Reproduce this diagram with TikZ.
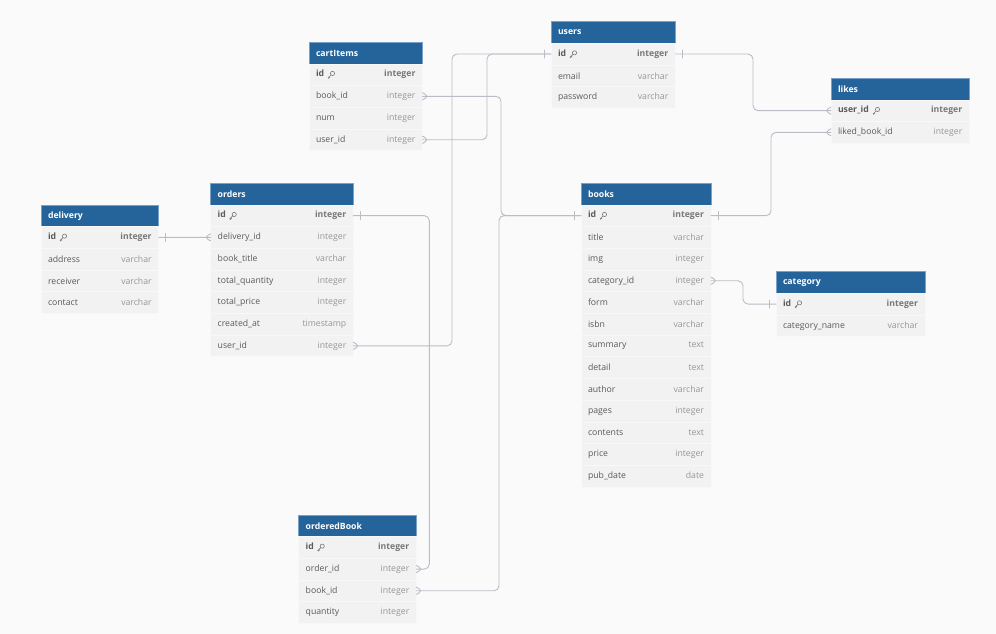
\documentclass[tikz,border=0pt]{standalone}
\usepackage{fontspec}
\setmainfont{Open Sans}
\usetikzlibrary{positioning}
\definecolor{bgc}{RGB}{250,250,250}
\definecolor{hdr}{RGB}{36,100,154}
\definecolor{hdrl}{RGB}{120,160,200}
\definecolor{rowc}{RGB}{242,242,242}
\definecolor{sepc}{RGB}{248,248,248}
\definecolor{fldc}{RGB}{90,90,90}
\definecolor{typc}{RGB}{150,150,150}
\definecolor{typb}{RGB}{120,120,120}
\definecolor{relc}{RGB}{186,189,197}
\newcommand\typ[1]{\hskip 0pt plus 1filll{\color{typc}#1}}
\newcommand\typb[1]{\hskip 0pt plus 1filll{\bfseries\color{typb}#1}}
\begin{document}
\begin{tikzpicture}[x=1pt, y=-1pt, line cap=round, line join=round,
	head/.style={anchor=north west, fill=hdr, draw=hdrl, line width=.5pt, minimum height=21.5pt, inner xsep=7pt, inner ysep=0pt, outer sep=0pt, align=left, text=white, font=\bfseries\fontsize{8.7}{10}\selectfont},
	row/.style={fill=rowc, draw=sepc, line width=.5pt, minimum height=21.7pt, inner xsep=7pt, inner ysep=0pt, outer sep=0pt, align=left, text=fldc, font=\fontsize{8.7}{10}\selectfont},
	rel/.style={draw=relc, line width=.9pt, rounded corners=5pt},
	crow/.pic={\draw[rel] (0,-3.5) -- (7,0) -- (0,3.5);},
	one/.pic={\draw[rel] (7,-4) -- (7,4);},
	pkkey/.pic={\draw[draw=typb, line width=.6pt] (1.5,-1.2) circle (2.1pt) (0,0.3) -- (-3,3.3) (-1.9,2.2) -- (-1,3.1) (-2.8,3.1) -- (-2,3.9);}]
	
	% background
	\fill[bgc] (0,0) rectangle (996,634);
	\useasboundingbox (0,0) rectangle (996,634);
	
	% cartItems
	\begin{scope}[every node/.append style={text width=99.5pt}]
		\node[head] (cartH) at (309,42.3) {cartItems};
		\node[row, below=0pt of cartH] (cartId) {\textbf{id}\typb{integer}};
		\node[row, below=0pt of cartId] (cartBook) {book\_id\typ{integer}};
		\node[row, below=0pt of cartBook] (cartNum) {num\typ{integer}};
		\node[row, below=0pt of cartNum] (cartUser) {user\_id\typ{integer}};
	\end{scope}
	
	% users
	\begin{scope}[every node/.append style={text width=110.3pt}]
		\node[head] (usersH) at (551,21.7) {users};
		\node[row, below=0pt of usersH] (usersId) {\textbf{id}\typb{integer}};
		\node[row, below=0pt of usersId] (usersMail) {email\typ{varchar}};
		\node[row, below=0pt of usersMail] (usersPass) {password\typ{varchar}};
	\end{scope}
	
	% likes
	\begin{scope}[every node/.append style={text width=124.3pt}]
		\node[head] (likesH) at (831,78.3) {likes};
		\node[row, below=0pt of likesH] (likesUser) {\textbf{user\_id}\typb{integer}};
		\node[row, below=0pt of likesUser] (likesBook) {liked\_book\_id\typ{integer}};
	\end{scope}
	
	% delivery
	\begin{scope}[every node/.append style={text width=103.7pt}]
		\node[head] (delivH) at (41,205) {delivery};
		\node[row, below=0pt of delivH] (delivId) {\textbf{id}\typb{integer}};
		\node[row, below=0pt of delivId] (delivAddr) {address\typ{varchar}};
		\node[row, below=0pt of delivAddr] (delivRecv) {receiver\typ{varchar}};
		\node[row, below=0pt of delivRecv] (delivCont) {contact\typ{varchar}};
	\end{scope}
	
	% orders
	\begin{scope}[every node/.append style={text width=128.6pt}]
		\node[head] (ordH) at (210.7,183.3) {orders};
		\node[row, below=0pt of ordH] (ordId) {\textbf{id}\typb{integer}};
		\node[row, below=0pt of ordId] (ordDeliv) {delivery\_id\typ{integer}};
		\node[row, below=0pt of ordDeliv] (ordTitle) {book\_title\typ{varchar}};
		\node[row, below=0pt of ordTitle] (ordQty) {total\_quantity\typ{integer}};
		\node[row, below=0pt of ordQty] (ordPrice) {total\_price\typ{integer}};
		\node[row, below=0pt of ordPrice] (ordCreated) {created\_at\typ{timestamp}};
		\node[row, below=0pt of ordCreated] (ordUser) {user\_id\typ{integer}};
	\end{scope}
	
	% books
	\begin{scope}[every node/.append style={text width=116pt}]
		\node[head] (booksH) at (581,183.3) {books};
		\node[row, below=0pt of booksH] (booksId) {\textbf{id}\typb{integer}};
		\node[row, below=0pt of booksId] (booksTitle) {title\typ{varchar}};
		\node[row, below=0pt of booksTitle] (booksImg) {img\typ{integer}};
		\node[row, below=0pt of booksImg] (booksCat) {category\_id\typ{integer}};
		\node[row, below=0pt of booksCat] (booksForm) {form\typ{varchar}};
		\node[row, below=0pt of booksForm] (booksIsbn) {isbn\typ{varchar}};
		\node[row, below=0pt of booksIsbn] (booksSum) {summary\typ{text}};
		\node[row, below=0pt of booksSum] (booksDetail) {detail\typ{text}};
		\node[row, below=0pt of booksDetail] (booksAuthor) {author\typ{varchar}};
		\node[row, below=0pt of booksAuthor] (booksPages) {pages\typ{integer}};
		\node[row, below=0pt of booksPages] (booksCont) {contents\typ{text}};
		\node[row, below=0pt of booksCont] (booksPrice) {price\typ{integer}};
		\node[row, below=0pt of booksPrice] (booksDate) {pub\_date\typ{date}};
	\end{scope}
	
	% category
	\begin{scope}[every node/.append style={text width=135pt}]
		\node[head] (catH) at (776,271.7) {category};
		\node[row, below=0pt of catH] (catId) {\textbf{id}\typb{integer}};
		\node[row, below=0pt of catId] (catName) {category\_name\typ{varchar}};
	\end{scope}
	
	% orderedBook
	\begin{scope}[every node/.append style={text width=103.6pt}]
		\node[head] (obH) at (298.7,515) {orderedBook};
		\node[row, below=0pt of obH] (obId) {\textbf{id}\typb{integer}};
		\node[row, below=0pt of obId] (obOrder) {order\_id\typ{integer}};
		\node[row, below=0pt of obOrder] (obBook) {book\_id\typ{integer}};
		\node[row, below=0pt of obBook] (obQty) {quantity\typ{integer}};
	\end{scope}
	
	% key icons
	\pic at ([xshift=22pt]cartId.west) {pkkey};
	\pic at ([xshift=22pt]usersId.west) {pkkey};
	\pic at ([xshift=45pt]likesUser.west) {pkkey};
	\pic at ([xshift=22pt]delivId.west) {pkkey};
	\pic at ([xshift=22pt]ordId.west) {pkkey};
	\pic at ([xshift=22pt]booksId.west) {pkkey};
	\pic at ([xshift=22pt]catId.west) {pkkey};
	\pic at ([xshift=22pt]obId.west) {pkkey};
	
	% relations
	\draw[rel] (cartUser.east) -| ([xshift=-64pt]usersId.west) -- (usersId.west);
	\draw[rel] (ordUser.east) -| ([xshift=-99pt]usersId.west) -- (usersId.west);
	\draw[rel] (cartBook.east) -| ([xshift=-80pt]booksId.west) -- (booksId.west);
	\draw[rel] (obBook.east) -| ([xshift=-82pt]booksId.west) -- (booksId.west);
	\draw[rel] (ordId.east) -| ([xshift=13pt]obOrder.east) -- (obOrder.east);
	\draw[rel] (delivId.east) -- (ordDeliv.west);
	\draw[rel] (usersId.east) -| ([xshift=-78pt]likesUser.west) -- (likesUser.west);
	\draw[rel] (booksId.east) -| ([xshift=-60pt]likesBook.west) -- (likesBook.west);
	\draw[rel] (booksCat.east) -| ([xshift=-33pt]catId.west) -- (catId.west);
	
	% end marks
	\pic at (cartBook.east) {crow};
	\pic at (cartUser.east) {crow};
	\pic at (ordUser.east) {crow};
	\pic at (obOrder.east) {crow};
	\pic at (obBook.east) {crow};
	\pic at (booksCat.east) {crow};
	\pic[rotate=180] at (ordDeliv.west) {crow};
	\pic[rotate=180] at (likesUser.west) {crow};
	\pic[rotate=180] at (likesBook.west) {crow};
	\pic at (usersId.east) {one};
	\pic at (delivId.east) {one};
	\pic at (ordId.east) {one};
	\pic at (booksId.east) {one};
	\pic[rotate=180] at (usersId.west) {one};
	\pic[rotate=180] at (booksId.west) {one};
	\pic[rotate=180] at (catId.west) {one};
	
\end{tikzpicture}
\end{document}
